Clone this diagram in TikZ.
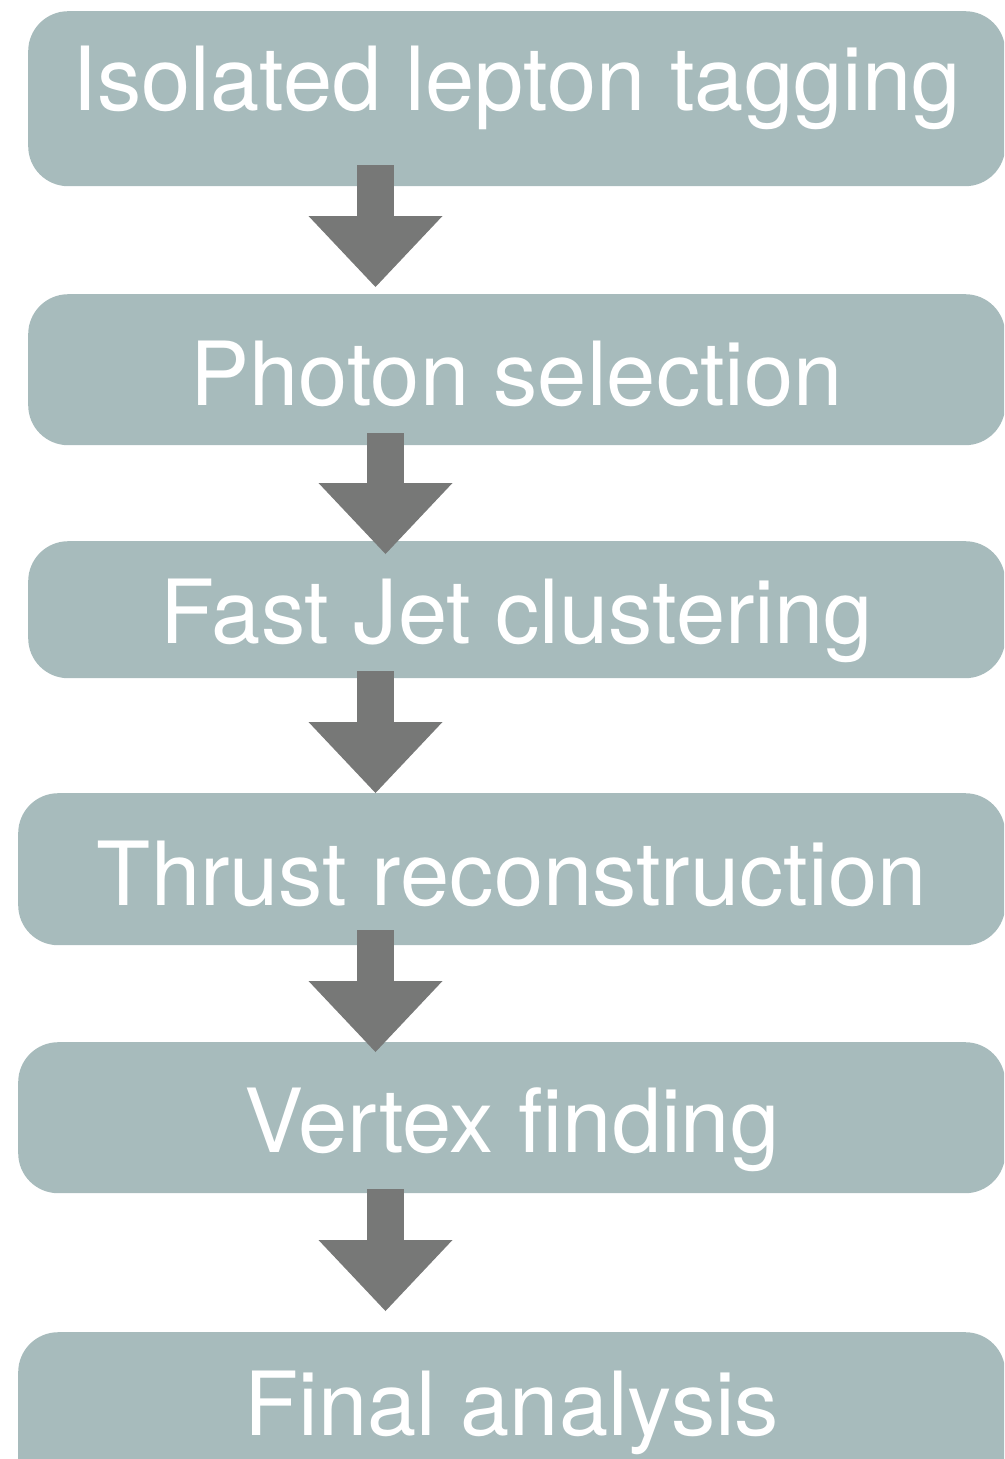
\documentclass[tikz,border=0pt]{standalone}
\usepackage{fontspec}
\setmainfont{TeX Gyre Heros}
\usetikzlibrary{arrows.meta}

\definecolor{boxgray}{HTML}{A7BBBC}
\definecolor{arrowgray}{HTML}{777877}

\tikzset{
  stepbox/.style={rectangle, rounded corners=40pt, fill=boxgray, text=white,
    inner sep=0pt, anchor=north west, font=\fontsize{88.5}{100}\selectfont},
  flow/.style={arrowgray, line width=37pt,
    -{Triangle[length=71pt,width=134pt,line width=0pt]}}
}

\begin{document}
\begin{tikzpicture}[x=1pt,y=-1pt]
            \useasboundingbox (0,0) rectangle (1004,1459);
            \clip (0,0) rectangle (1004,1459);

            % Boxes of the chain
            \node[stepbox, minimum width=977pt, text height=99pt, text depth=76pt] (lep) at (28,11) {Isolated lepton tagging};
            \node[stepbox, minimum width=977pt, text height=111pt, text depth=40pt] (pho) at (28,294) {Photon selection};
            \node[stepbox, minimum width=977pt, text height=102pt, text depth=35pt] (fjc) at (28,541) {Fast Jet clustering};
            \node[stepbox, minimum width=987pt, text height=112pt, text depth=40pt] (thr) at (18,793) {Thrust reconstruction};
            \node[stepbox, minimum width=987pt, text height=110pt, text depth=41pt] (vtx) at (18,1042) {Vertex finding};
            \node[stepbox, minimum width=987pt, text height=103pt, text depth=80pt] (fin) at (18,1332) {Final analysis};

            % Columns of the arrows
            \coordinate (colA) at (375.5,0);
            \coordinate (colB) at (385.5,0);

            % Arrows between the boxes
            \draw[flow] ([yshift=21pt]colA |- lep.south) -- ([yshift=7pt]colA |- pho.north);
            \draw[flow] ([yshift=12pt]colB |- pho.south) -- ([yshift=-13pt]colB |- fjc.north);
            \draw[flow] ([yshift=7pt]colA |- fjc.south) -- (colA |- thr.north);
            \draw[flow] ([yshift=15pt]colA |- thr.south) -- ([yshift=-10pt]colA |- vtx.north);
            \draw[flow] ([yshift=4pt]colB |- vtx.south) -- ([yshift=21pt]colB |- fin.north);
\end{tikzpicture}
\end{document}
